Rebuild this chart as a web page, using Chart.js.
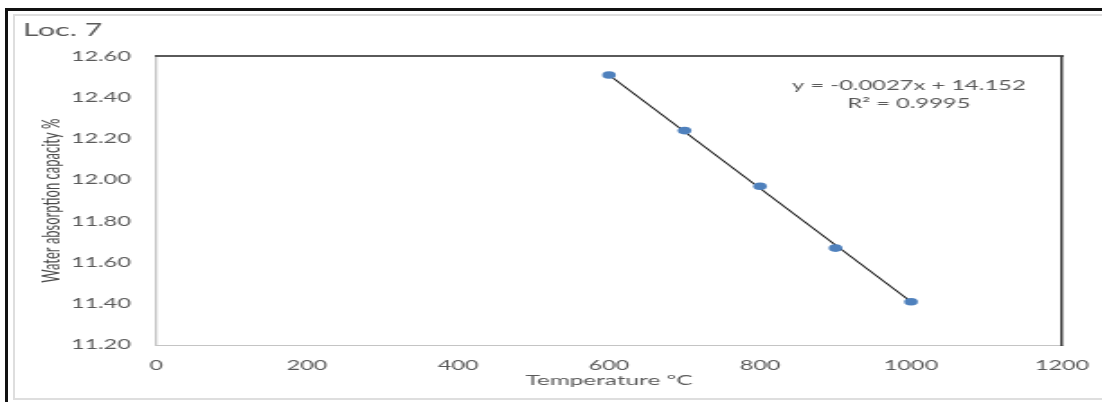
<!DOCTYPE html>
<html>
<head>
<meta charset="utf-8">
<script src="https://cdn.jsdelivr.net/npm/chart.js@4/dist/chart.umd.min.js"></script>
<style>
  html, body { margin: 0; padding: 0; background: #fff; }
  body { width: 1102px; height: 402px; position: relative; overflow: hidden; }
  #wrap { position: absolute; left: 0; top: 0; width: 612px; height: 402px; transform: scaleX(1.8); transform-origin: 0 0; }
  .ln { position: absolute; }
</style>
</head>
<body>
<div id="wrap"><canvas id="c" width="612" height="402"></canvas></div>
<div class="ln" style="left:5px;top:8px;width:1097px;height:3px;background:#111;"></div>
<div class="ln" style="left:5px;top:8px;width:3px;height:394px;background:#111;"></div>
<div class="ln" style="left:13px;top:14px;width:1089px;height:2px;background:#dedede;"></div>
<div class="ln" style="left:13px;top:14px;width:2px;height:386px;background:#dedede;"></div>
<div class="ln" style="left:13px;top:398px;width:1089px;height:2px;background:#dedede;"></div>
<script>
// ---- data ----
const chartTitle = 'Loc. 7';
const xValues = [600, 700, 800, 900, 1000];
const yValues = [12.51, 12.24, 11.97, 11.67, 11.41];
const trendX = [600, 1000];
const trendY = [12.51, 11.41];
const xTicks = [0, 200, 400, 600, 800, 1000, 1200];
const yTicks = [11.20, 11.40, 11.60, 11.80, 12.00, 12.20, 12.40, 12.60];
const xTitle = 'Temperature ºC';
const yTitle = 'Water absorption capacity %';
const equationLines = ['y = -0.0027x + 14.152', 'R² = 0.9995'];

const textColor = '#595959';
const fontFamily = 'Lato, "Open Sans", sans-serif';

const pointsData = xValues.map((x, i) => ({ x: x, y: yValues[i] }));
const trendData = trendX.map((x, i) => ({ x: x, y: trendY[i] }));

const equationPlugin = {
  id: 'equation',
  afterDraw(chart) {
    const { ctx, chartArea: a } = chart;
    ctx.save();
    ctx.font = '13.2px ' + fontFamily;
    ctx.fillStyle = textColor;
    ctx.textAlign = 'center';
    ctx.textBaseline = 'middle';
    const cx = a.left + 0.831 * (a.right - a.left);
    ctx.fillText(equationLines[0], cx, a.top + 29);
    ctx.fillText(equationLines[1], cx, a.top + 47);
    ctx.restore();
  }
};

new Chart(document.getElementById('c'), {
  type: 'scatter',
  data: {
    datasets: [
      {
        label: 'trend',
        data: trendData,
        showLine: true,
        borderColor: '#111',
        borderWidth: 1.1,
        pointRadius: 0,
        fill: false,
        order: 2
      },
      {
        label: 'Loc. 7',
        data: pointsData,
        showLine: false,
        pointRadius: 3.8,
        pointBackgroundColor: '#4f81bd',
        pointBorderColor: '#4f81bd',
        pointBorderWidth: 0,
        order: 1
      }
    ]
  },
  options: {
    responsive: false,
    animation: false,
    devicePixelRatio: 1,
    layout: { padding: { left: 12.8, right: 22, top: 0, bottom: 0 } },
    plugins: {
      legend: { display: false },
      tooltip: { enabled: false },
      title: {
        display: true,
        text: chartTitle,
        align: 'start',
        color: textColor,
        font: { family: fontFamily, size: 17, weight: 'normal' },
        padding: { top: 20, bottom: 16 }
      }
    },
    scales: {
      x: {
        type: 'linear',
        position: 'bottom',
        min: 0, max: 1200,
        afterBuildTicks: s => { s.ticks = xTicks.map(v => ({ value: v })); },
        afterFit: s => { s.height = 57; },
        ticks: { color: textColor, font: { family: fontFamily, size: 13 }, padding: 0, maxRotation: 0, callback: v => String(v) },
        grid: { display: false, drawTicks: true, tickLength: 13 },
        border: { display: true, color: '#c4c4c4', width: 1 },
        title: { display: true, text: xTitle, color: textColor, font: { family: fontFamily, size: 13.5 }, padding: { top: 0, bottom: 13 } }
      },
      y: {
        type: 'linear',
        position: 'left',
        min: 11.2, max: 12.6,
        afterBuildTicks: s => { s.ticks = yTicks.map(v => ({ value: v })); },
        afterFit: s => { s.width = 73.9; },
        ticks: { color: textColor, font: { family: fontFamily, size: 13 }, padding: 14, callback: v => Number(v).toFixed(2) },
        grid: { display: false, drawTicks: false },
        border: { display: true, color: '#c4c4c4', width: 1.3 },
        title: { display: true, text: yTitle, color: '#4a4a4a', font: { family: fontFamily, size: 13 }, padding: { top: 8, bottom: 0 } }
      },
      x2: {
        type: 'linear',
        position: 'top',
        min: 0, max: 1200,
        afterFit: s => { s.height = 0; },
        ticks: { display: false },
        grid: { display: false, drawTicks: false },
        border: { display: true, color: '#5a5a5a', width: 2 }
      },
      y2: {
        type: 'linear',
        position: 'right',
        min: 11.2, max: 12.6,
        afterFit: s => { s.width = 0; },
        ticks: { display: false },
        grid: { display: false, drawTicks: false },
        border: { display: true, color: '#3a3a3a', width: 1.5 }
      }
    }
  },
  plugins: [equationPlugin]
});
</script>
</body>
</html>
